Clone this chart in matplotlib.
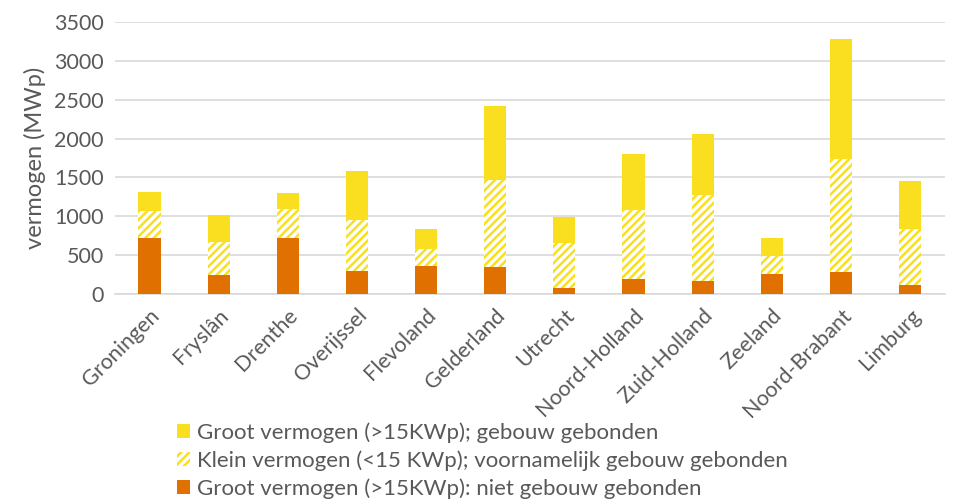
import matplotlib.pyplot as plt
import numpy as np

provincies = ["Groningen", "Fryslân", "Drenthe", "Overijssel", "Flevoland", "Gelderland",
              "Utrecht", "Noord-Holland", "Zuid-Holland", "Zeeland", "Noord-Brabant", "Limburg"]
# MWp per categorie
niet_gebouw = [720, 245, 720, 296, 360, 351, 81, 197, 171, 261, 287, 116]
klein_cum = [1068, 669, 1094, 952, 575, 1467, 656, 1077, 1274, 493, 1737, 836]
totaal = [1312, 1016, 1300, 1583, 832, 2419, 991, 1801, 2055, 720, 3281, 1454]

klein = [k - n for k, n in zip(klein_cum, niet_gebouw)]
groot_gebouw = [t - k for t, k in zip(totaal, klein_cum)]

geel = "#F9DF1F"
oranje = "#E07000"
tekst = "#595959"

plt.rcParams['font.family'] = ['Lato', 'DejaVu Sans']
plt.rcParams['hatch.linewidth'] = 1.8

fig = plt.figure(figsize=(9.62, 5), dpi=100)
ax = fig.add_axes([0.1195, 0.412, 0.8625, 0.544])

x = np.arange(len(provincies))
w = 0.32
b1 = ax.bar(x, niet_gebouw, w, color=oranje, zorder=3,
            label="Groot vermogen (>15KWp): niet gebouw gebonden")
b2 = ax.bar(x, klein, w, bottom=niet_gebouw, facecolor="white", edgecolor=geel,
            hatch="////", linewidth=0, zorder=3,
            label="Klein vermogen (<15 KWp); voornamelijk gebouw gebonden")
b3 = ax.bar(x, groot_gebouw, w, bottom=klein_cum, color=geel, zorder=3,
            label="Groot vermogen (>15KWp); gebouw gebonden")

ax.set_xlim(-0.5, len(provincies) - 0.5)
ax.set_ylim(0, 3500)
ax.set_yticks(range(0, 3501, 500))
ax.yaxis.grid(True, color="#D9D9D9", linewidth=1.2, zorder=0)
ax.set_axisbelow(True)
for s in ["top", "right", "left"]:
    ax.spines[s].set_visible(False)
ax.spines["bottom"].set_color("#D9D9D9")
ax.spines["bottom"].set_linewidth(1.2)
ax.tick_params(length=0, labelsize=15.5, colors=tekst, pad=8)
ax.set_xticks(x)
ax.set_xticklabels(provincies, rotation=45, ha="right", rotation_mode="anchor")
ax.set_ylabel("vermogen (MWp)", fontsize=17, color=tekst, labelpad=6)

fig.legend(handles=[b3, b2, b1], loc="upper left", bbox_to_anchor=(0.184, 0.156),
           frameon=False, fontsize=16, labelcolor=tekst, handlelength=0.6,
           handleheight=0.6, handletextpad=0.3, labelspacing=0.34, borderpad=0,
           borderaxespad=0)

fig.savefig("out.png", dpi=100)
